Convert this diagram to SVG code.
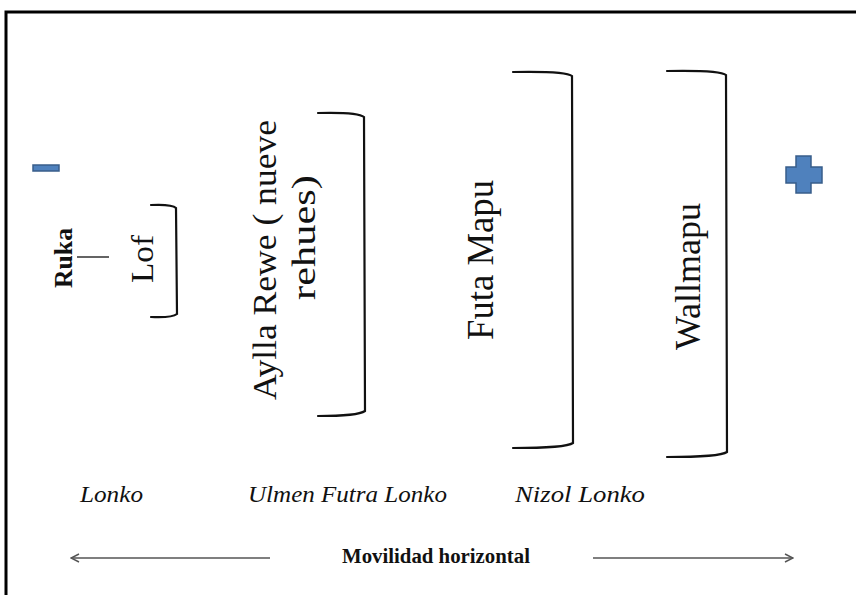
<svg xmlns="http://www.w3.org/2000/svg" width="856" height="595" viewBox="0 0 856 595">
<style>
.serif{font-family:"Liberation Serif","Times New Roman",serif;fill:#111}
.brk{fill:none;stroke:#111;stroke-width:2.2;stroke-linecap:round}
.sign{fill:#4F81BD;stroke:#385D8A;stroke-width:1.5}
.arr{fill:none;stroke:#555;stroke-width:1.6}
</style>
<defs>
<marker id="ah" viewBox="0 0 10 10" refX="9" refY="5" markerWidth="10" markerHeight="10" markerUnits="userSpaceOnUse" orient="auto-start-reverse">
<path d="M1,1 L9,5 L1,9" fill="none" stroke="#555" stroke-width="1.5"/>
</marker>
</defs>
<rect width="856" height="595" fill="#fff"/>
<rect x="6" y="12" width="900" height="700" fill="none" stroke="#000" stroke-width="3"/>
<g id="minus"><rect class="sign" x="33" y="165" width="26" height="6"/></g>
<g id="plus"><path class="sign" d="M796,156 H811 V167 H822 V183 H811 V193 H796 V183 H786 V167 H796 Z"/></g>
<g id="ruka">
<text class="serif" font-weight="bold" font-size="25" textLength="60" lengthAdjust="spacingAndGlyphs" transform="translate(72,288) rotate(-90)">Ruka</text>
</g>
<g id="lof">
<text class="serif" font-size="31" textLength="48" lengthAdjust="spacingAndGlyphs" transform="translate(153,283) rotate(-90)">Lof</text>
<path class="brk" d="M151,205 Q172,204 176,208 L177,314 Q172,318 151,317"/>
</g>
<g id="ayllarewe">
<text class="serif" font-size="34" textLength="280" lengthAdjust="spacingAndGlyphs" transform="translate(276,400) rotate(-90)">Aylla  Rewe ( nueve</text>
<text class="serif" font-size="34" textLength="125" lengthAdjust="spacingAndGlyphs" transform="translate(315,300) rotate(-90)">rehues)</text>
<path class="brk" d="M318,113 Q358,112 364,117 L365,411 Q358,416 318,416"/>
</g>
<g id="futamapu">
<text class="serif" font-size="37" textLength="160" lengthAdjust="spacingAndGlyphs" transform="translate(493,340) rotate(-90)">Futa Mapu</text>
<path class="brk" d="M513,72 Q566,71 572,76 L573,443 Q566,448 513,448"/>
</g>
<g id="wallmapu">
<text class="serif" font-size="36" textLength="147" lengthAdjust="spacingAndGlyphs" transform="translate(700,350) rotate(-90)">Wallmapu</text>
<path class="brk" d="M667,71 Q720,70 726,75 L727,452 Q720,457 667,457"/>
</g>
<g id="labels">
<text class="serif" font-style="italic" font-size="23" x="80" y="502" textLength="63" lengthAdjust="spacingAndGlyphs">Lonko</text>
<text class="serif" font-style="italic" font-size="23" x="248" y="502" textLength="199" lengthAdjust="spacingAndGlyphs">Ulmen Futra Lonko</text>
<text class="serif" font-style="italic" font-size="23" x="515" y="502" textLength="130" lengthAdjust="spacingAndGlyphs">Nizol Lonko</text>
<text class="serif" font-weight="bold" font-size="20" x="342" y="563" textLength="188" lengthAdjust="spacingAndGlyphs">Movilidad horizontal</text>
</g>
<g id="connectors">
<line x1="77" y1="257" x2="109" y2="257" stroke="#222" stroke-width="1.4"/>
<line class="arr" x1="270" y1="558" x2="71" y2="558" marker-end="url(#ah)"/>
<line class="arr" x1="593" y1="558" x2="793" y2="558" marker-end="url(#ah)"/>
</g>
</svg>
